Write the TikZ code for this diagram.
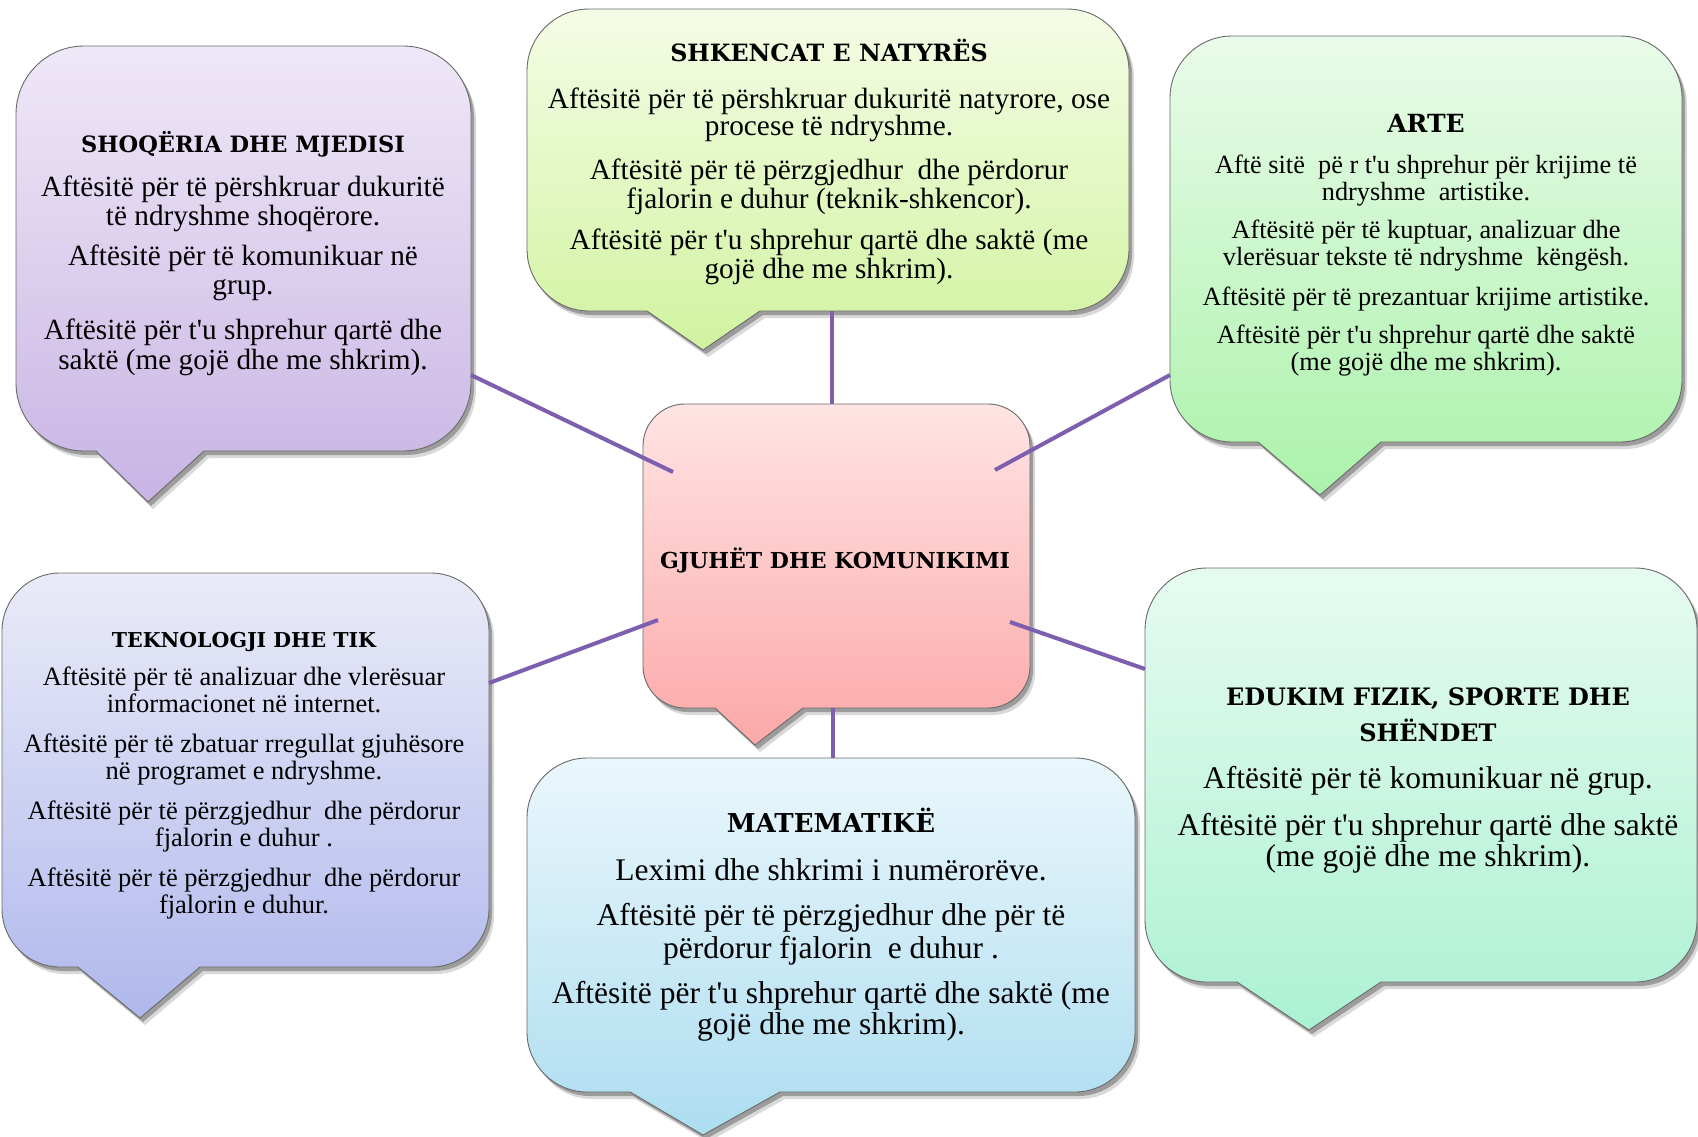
\documentclass[tikz,border=0pt]{standalone}
\usepackage{fontspec}
\setmainfont{Liberation Serif}[Ligatures=TeXOff]
\newfontfamily\ttlfont{DejaVu Serif}
\definecolor{edgec}{HTML}{6A6A6A}
\definecolor{linkc}{HTML}{7D5FAF}
\definecolor{socTop}{HTML}{EFE8F7}\definecolor{socBot}{HTML}{C8B4E4}
\definecolor{sciTop}{HTML}{F5FCE6}\definecolor{sciBot}{HTML}{D1F3A0}
\definecolor{artTop}{HTML}{E9FBE9}\definecolor{artBot}{HTML}{ABF2AB}
\definecolor{tekTop}{HTML}{EAEBF8}\definecolor{tekBot}{HTML}{B0B8EC}
\definecolor{pnkTop}{HTML}{FFE4E4}\definecolor{pnkBot}{HTML}{FCA8A8}
\definecolor{matTop}{HTML}{EAF7FC}\definecolor{matBot}{HTML}{ADDDF0}
\definecolor{eduTop}{HTML}{E6FBF0}\definecolor{eduBot}{HTML}{ACF1D3}
\tikzset{
  bubedge/.style={draw=edgec, line width=0.9pt},
  bodytxt/.style={anchor=base, inner sep=0pt, font=\fontsize{#1}{#1}\selectfont},
  ttltxt/.style={anchor=base, inner sep=0pt, font=\ttlfont\bfseries\fontsize{#1}{#1}\selectfont},
  link/.style={draw=linkc, line width=4pt},
}
% #1 x1, #2 ytop, #3 x2, #4 ybottom, #5 tail left, #6 tail right, #7 apex x, #8 apex y, #9 radius
\newcommand\bubble[9]{%
  \def\bubP{(#5,#4) -- ({#1+#9},#4) .. controls ({#1+0.45*#9},#4) and (#1,{#4-0.45*#9}) .. (#1,{#4-#9})
    -- (#1,{#2+#9}) .. controls (#1,{#2+0.45*#9}) and ({#1+0.45*#9},#2) .. ({#1+#9},#2)
    -- ({#3-#9},#2) .. controls ({#3-0.45*#9},#2) and (#3,{#2+0.45*#9}) .. (#3,{#2+#9})
    -- (#3,{#4-#9}) .. controls (#3,{#4-0.45*#9}) and ({#3-0.45*#9},#4) .. ({#3-#9},#4)
    -- (#6,#4) -- (#7,#8) -- cycle}%
  \fill[black, opacity=0.15, shift={(5,7)}] \bubP;
  \fill[black, opacity=0.28, shift={(3,4)}] \bubP;
  \path[bubedge, top color=btop, bottom color=bbot] \bubP;
}
\begin{document}
\begin{tikzpicture}[x=1pt,y=-1pt]
\fill[white] (0,0) rectangle (1698,1136);
\useasboundingbox (0,0) rectangle (1698,1136);

% bubbles
\colorlet{btop}{socTop}\colorlet{bbot}{socBot}
\bubble{16}{46}{471}{451}{96}{204}{148}{502}{68}
\colorlet{btop}{sciTop}\colorlet{bbot}{sciBot}
\bubble{527}{9}{1129}{311}{647}{760}{703}{350}{62}
\colorlet{btop}{artTop}\colorlet{bbot}{artBot}
\bubble{1170}{36}{1682}{442}{1258}{1381}{1320}{495}{62}
\colorlet{btop}{tekTop}\colorlet{bbot}{tekBot}
\bubble{2}{573}{489}{967}{78}{200}{140}{1018}{58}
\colorlet{btop}{pnkTop}\colorlet{bbot}{pnkBot}
\bubble{643}{404}{1030}{708}{715}{803}{755}{745}{42}
\colorlet{btop}{matTop}\colorlet{bbot}{matBot}
\bubble{527}{758}{1135}{1092}{630}{780}{703}{1135}{60}
\colorlet{btop}{eduTop}\colorlet{bbot}{eduBot}
\bubble{1145}{568}{1697}{982}{1237}{1381}{1309}{1030}{62}

% connector end points
\coordinate (socE) at (471,375);
\coordinate (sciS) at (832,311);
\coordinate (artW) at (1170,375);
\coordinate (tekE) at (489,683);
\coordinate (eduW) at (1145,669);
\coordinate (matN) at (833,758);
\coordinate (pkUL) at (673,472);
\coordinate (pkN) at (832,404);
\coordinate (pkUR) at (995,470);
\coordinate (pkLL) at (658,620);
\coordinate (pkLR) at (1010,622);
\coordinate (pkS) at (833,708);

\draw[link] (socE) -- (pkUL);
\draw[link] (sciS) -- (pkN);
\draw[link] (artW) -- (pkUR);
\draw[link] (tekE) -- (pkLL);
\draw[link] (eduW) -- (pkLR);
\draw[link] (pkS) -- (matN);

% centre
\node[ttltxt=22] (gjuhet) at (835,568) {GJUHËT DHE KOMUNIKIMI};

% Shoqeria
\node[ttltxt=22.5] (socT) at (243,152) {SHOQËRIA DHE MJEDISI};
\foreach \yy/\ltext [count=\i] in {196/{Aftësitë për të përshkruar dukuritë},
  225/{të ndryshme shoqërore.}, 265/{Aftësitë për të komunikuar në}, 294/{grup.},
  339/{Aftësitë për t'u shprehur qartë dhe}, 369/{saktë (me gojë dhe me shkrim).}}
  \node[bodytxt=29.3] (soc\i) at (243,\yy) {\ltext};

% Shkencat
\node[ttltxt=23.8] (sciT) at (829,61) {SHKENCAT E NATYRËS};
\foreach \yy/\ltext [count=\i] in {108/{Aftësitë për të përshkruar dukuritë natyrore, ose},
  135/{procese të ndryshme.}, 179/{Aftësitë për të përzgjedhur \ dhe përdorur},
  208/{fjalorin e duhur (teknik-shkencor).},
  249/{Aftësitë për t'u shprehur qartë dhe saktë (me}, 278/{gojë dhe me shkrim).}}
  \node[bodytxt=29.3] (sci\i) at (829,\yy) {\ltext};

% Arte
\node[ttltxt=25] (artT) at (1426,132) {ARTE};
\foreach \yy/\ltext [count=\i] in {173/{Aftë sitë \ pë r t'u shprehur për krijime të},
  200/{ndryshme \ artistike.}, 238/{Aftësitë për të kuptuar, analizuar dhe},
  265/{vlerësuar tekste të ndryshme \ këngësh.},
  305/{Aftësitë për të prezantuar krijime artistike.},
  343/{Aftësitë për t'u shprehur qartë dhe saktë}, 370/{(me gojë dhe me shkrim).}}
  \node[bodytxt=26.3] (art\i) at (1426,\yy) {\ltext};

% Teknologji
\node[ttltxt=20.5] (tekT) at (244,647) {TEKNOLOGJI DHE TIK};
\foreach \yy/\ltext [count=\i] in {685/{Aftësitë për të analizuar dhe vlerësuar},
  712/{informacionet në internet.}, 752/{Aftësitë për të zbatuar rregullat gjuhësore},
  779/{në programet e ndryshme.}, 819/{Aftësitë për të përzgjedhur \ dhe përdorur},
  846/{fjalorin e duhur .}, 886/{Aftësitë për të përzgjedhur \ dhe përdorur},
  913/{fjalorin e duhur.}}
  \node[bodytxt=26.5] (tek\i) at (244,\yy) {\ltext};

% Matematike
\node[ttltxt=26] (matT) at (831,832) {MATEMATIKË};
\foreach \yy/\ltext [count=\i] in {880/{Leximi dhe shkrimi i numërorëve.},
  925/{Aftësitë për të përzgjedhur dhe për të}, 958/{përdorur fjalorin \ e duhur .},
  1003/{Aftësitë për t'u shprehur qartë dhe saktë (me}, 1034/{gojë dhe me shkrim).}}
  \node[bodytxt=31.5] (mat\i) at (831,\yy) {\ltext};

% Edukim
\node[ttltxt=24] (eduT1) at (1428,705) {EDUKIM FIZIK, SPORTE DHE};
\node[ttltxt=24] (eduT2) at (1428,741) {SHËNDET};
\foreach \yy/\ltext [count=\i] in {788/{Aftësitë për të komunikuar në grup.},
  835/{Aftësitë për t'u shprehur qartë dhe saktë}, 866/{(me gojë dhe me shkrim).}}
  \node[bodytxt=31.5] (edu\i) at (1428,\yy) {\ltext};
\end{tikzpicture}
\end{document}
